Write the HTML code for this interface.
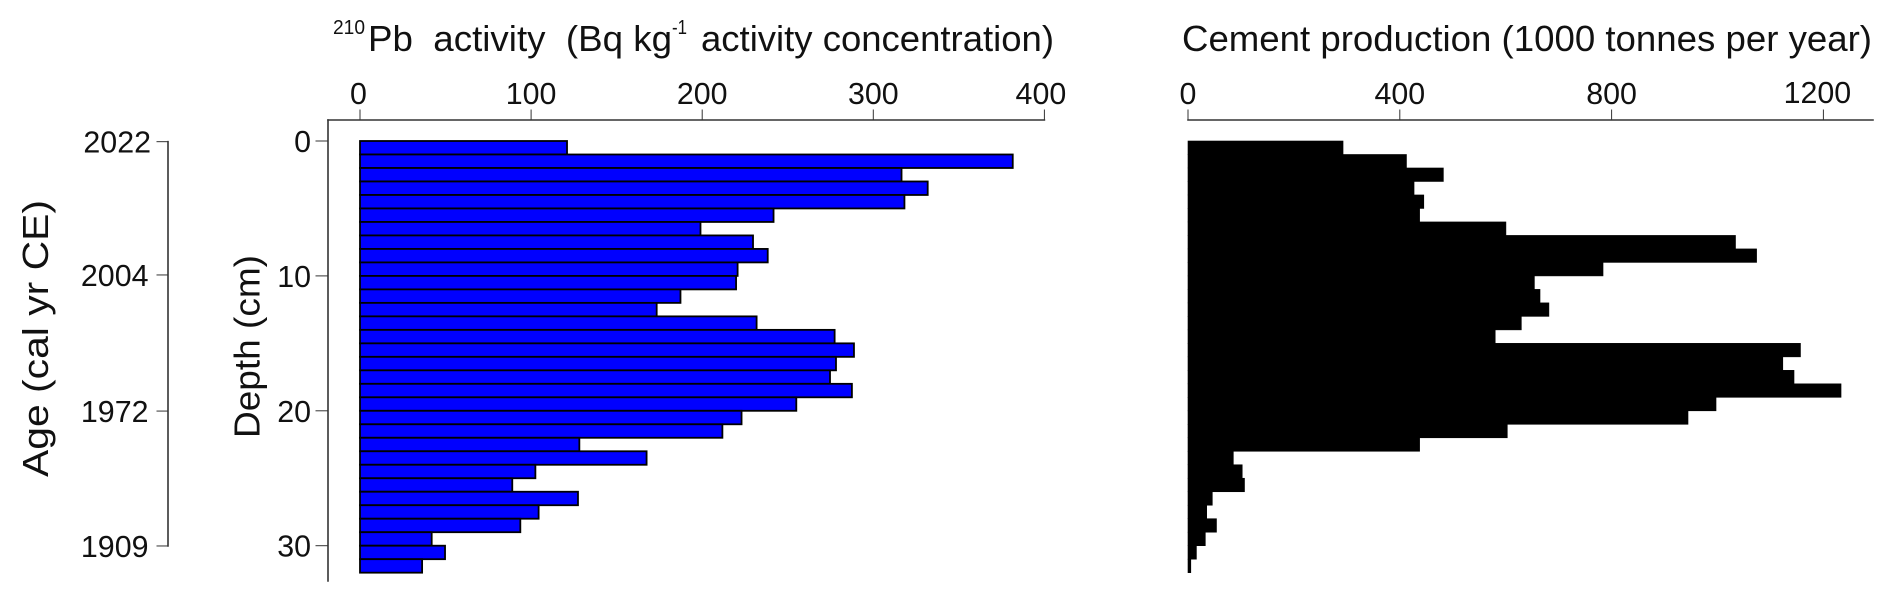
<!DOCTYPE html>
<html lang="en">
<head>
<meta charset="utf-8">
<title>210Pb activity and cement production by depth</title>
<style>
html,body{margin:0;padding:0;background:#fff;width:1892px;height:601px;overflow:hidden}
svg{display:block}
text{font-family:"Liberation Sans",Arial,sans-serif;fill:#111}
.tick{font-size:31px}
.title{font-size:36px}
.sup{font-size:20px}
</style>
</head>
<body>
<svg id="chart" xmlns="http://www.w3.org/2000/svg" width="1892" height="601" viewBox="0 0 1892 601">
  <rect x="0" y="0" width="1892" height="601" fill="#fff"/>
  <g id="pb-bars"></g>
  <g id="cement-bars"></g>
  <g id="axes"></g>
  <g>
    <text class="sup" x="333" y="34" textLength="32" lengthAdjust="spacingAndGlyphs">210</text>
    <text class="title" x="368" y="51.2" xml:space="preserve" textLength="304" lengthAdjust="spacingAndGlyphs">Pb  activity  (Bq kg</text>
    <text class="sup" x="672" y="34" textLength="15" lengthAdjust="spacingAndGlyphs">-1</text>
    <text class="title" x="701" y="51.2" textLength="353" lengthAdjust="spacingAndGlyphs">activity concentration)</text>
  </g>
  <text class="title" x="1182" y="51.2" textLength="690" lengthAdjust="spacingAndGlyphs">Cement production (1000 tonnes per year)</text>
  <text class="title" transform="translate(48 477) rotate(-90)" x="0" y="0" textLength="277" lengthAdjust="spacingAndGlyphs">Age (cal yr CE)</text>
  <text class="title" transform="translate(259.5 438) rotate(-90)" x="0" y="0" textLength="183" lengthAdjust="spacingAndGlyphs">Depth (cm)</text>
</svg>
<script>
const depths = [0,1,2,3,4,5,6,7,8,9,10,11,12,13,14,15,16,17,18,19,20,21,22,23,24,25,26,27,28,29,30,31];
const pbActivity = [121,381.5,316.5,331.8,318.2,241.7,199,229.7,238.3,220.7,219.8,187.3,173.4,231.8,277.4,288.7,278.2,274.7,287.5,255,223,211.8,128.2,167.5,102.5,89,127.4,104.4,93.7,41.9,49.7,36.3];
const cementProduction = [292.8,412.6,482.3,426.9,445.3,437.4,600.4,1034,1073.8,783.8,654.2,664.8,681.6,629.5,580.2,1156.7,1123.3,1144.5,1233.3,997.2,944.3,603,437.4,85.6,102.4,106.7,45.9,35.3,53.8,32.7,15.9,5.3];
const pbTicks = [0,100,200,300,400];
const cementTicks = [0,400,800,1200];
const depthTicks = [0,10,20,30];
const ageLabels = ["2022","2004","1972","1909"];
const ageTickDepths = [0.05,9.93,20.02,30.02];

const NS = "http://www.w3.org/2000/svg";
const xPb = v => 360 + v * 1.711;
const xCement = v => 1188 + v * 0.5295;
const yDepth = d => 141 + d * 13.49;

const pbGroup = document.getElementById("pb-bars");
const cementGroup = document.getElementById("cement-bars");
const axes = document.getElementById("axes");

function addLine(x1, y1, x2, y2, width, color, name) {
  const el = document.createElementNS(NS, "line");
  el.setAttribute("x1", x1);
  el.setAttribute("y1", y1);
  el.setAttribute("x2", x2);
  el.setAttribute("y2", y2);
  el.setAttribute("stroke", color);
  el.setAttribute("stroke-width", width);
  el.setAttribute("stroke-linecap", "square");
  
  
  axes.appendChild(el);
}

function addLabel(x, y, anchor, label, name) {
  const el = document.createElementNS(NS, "text");
  el.setAttribute("x", x);
  el.setAttribute("y", y);
  el.setAttribute("text-anchor", anchor);
  el.setAttribute("class", "tick");
  el.setAttribute("textLength", label.length * 16.9);
  el.setAttribute("lengthAdjust", "spacingAndGlyphs");
  
  
  el.textContent = label;
  axes.appendChild(el);
}

depths.forEach(function (d, i) {
  const top = yDepth(d);
  const h = yDepth(d + 1) - top;

  const pbBar = document.createElementNS(NS, "rect");
  pbBar.setAttribute("x", xPb(0));
  pbBar.setAttribute("y", top);
  pbBar.setAttribute("width", xPb(pbActivity[i]) - xPb(0));
  pbBar.setAttribute("height", h);
  pbBar.setAttribute("fill", "#0000ff");
  pbBar.setAttribute("stroke", "#000");
  pbBar.setAttribute("stroke-width", "1.8");
  
  
  pbGroup.appendChild(pbBar);

  const cementBar = document.createElementNS(NS, "rect");
  cementBar.setAttribute("x", xCement(0));
  cementBar.setAttribute("y", top);
  cementBar.setAttribute("width", xCement(cementProduction[i]) - xCement(0));
  cementBar.setAttribute("height", h);
  cementBar.setAttribute("fill", "#000");
  cementBar.setAttribute("stroke", "#000");
  cementBar.setAttribute("stroke-width", "0.6");
  
  
  cementGroup.appendChild(cementBar);
});

const AXIS = "#333";

addLine(328, 120, xPb(400), 120, 1.6, AXIS, "pb-axis-line");
pbTicks.forEach(function (t) {
  addLine(xPb(t), 110, xPb(t), 120, 1, AXIS, "pb-axis-tick");
  addLabel(t === 400 ? xPb(t) - 3.5 : (t === 0 ? xPb(t) - 1.5 : xPb(t)), 104, "middle", String(t), "pb-tick-label");
});

addLine(xCement(0), 120, 1873, 120, 1.6, AXIS, "cement-axis-line");
cementTicks.forEach(function (t) {
  addLine(xCement(t), 110, xCement(t), 120, 1, AXIS, "cement-axis-tick");
  addLabel(t === 1200 ? xCement(t) - 6 : xCement(t), t === 1200 ? 103 : 104, "middle", String(t), "cement-tick-label");
});

addLine(328, 120, 328, 581, 1.6, AXIS, "depth-axis-line");
depthTicks.forEach(function (t) {
  addLine(316, yDepth(t), 328, yDepth(t), 1, AXIS, "depth-axis-tick");
  addLabel(311, yDepth(t) + 11, "end", String(t), "depth-tick-label");
});

addLine(168, yDepth(ageTickDepths[0]), 168, yDepth(ageTickDepths[3]), 1.6, AXIS, "age-axis-line");
ageLabels.forEach(function (label, i) {
  addLine(157, yDepth(ageTickDepths[i]), 168, yDepth(ageTickDepths[i]), 1, AXIS, "age-axis-tick");
  addLabel(i === 0 ? 151 : 148.5, yDepth(ageTickDepths[i]) + 11, "end", label, "age-tick-label");
});
</script>
</body>
</html>
